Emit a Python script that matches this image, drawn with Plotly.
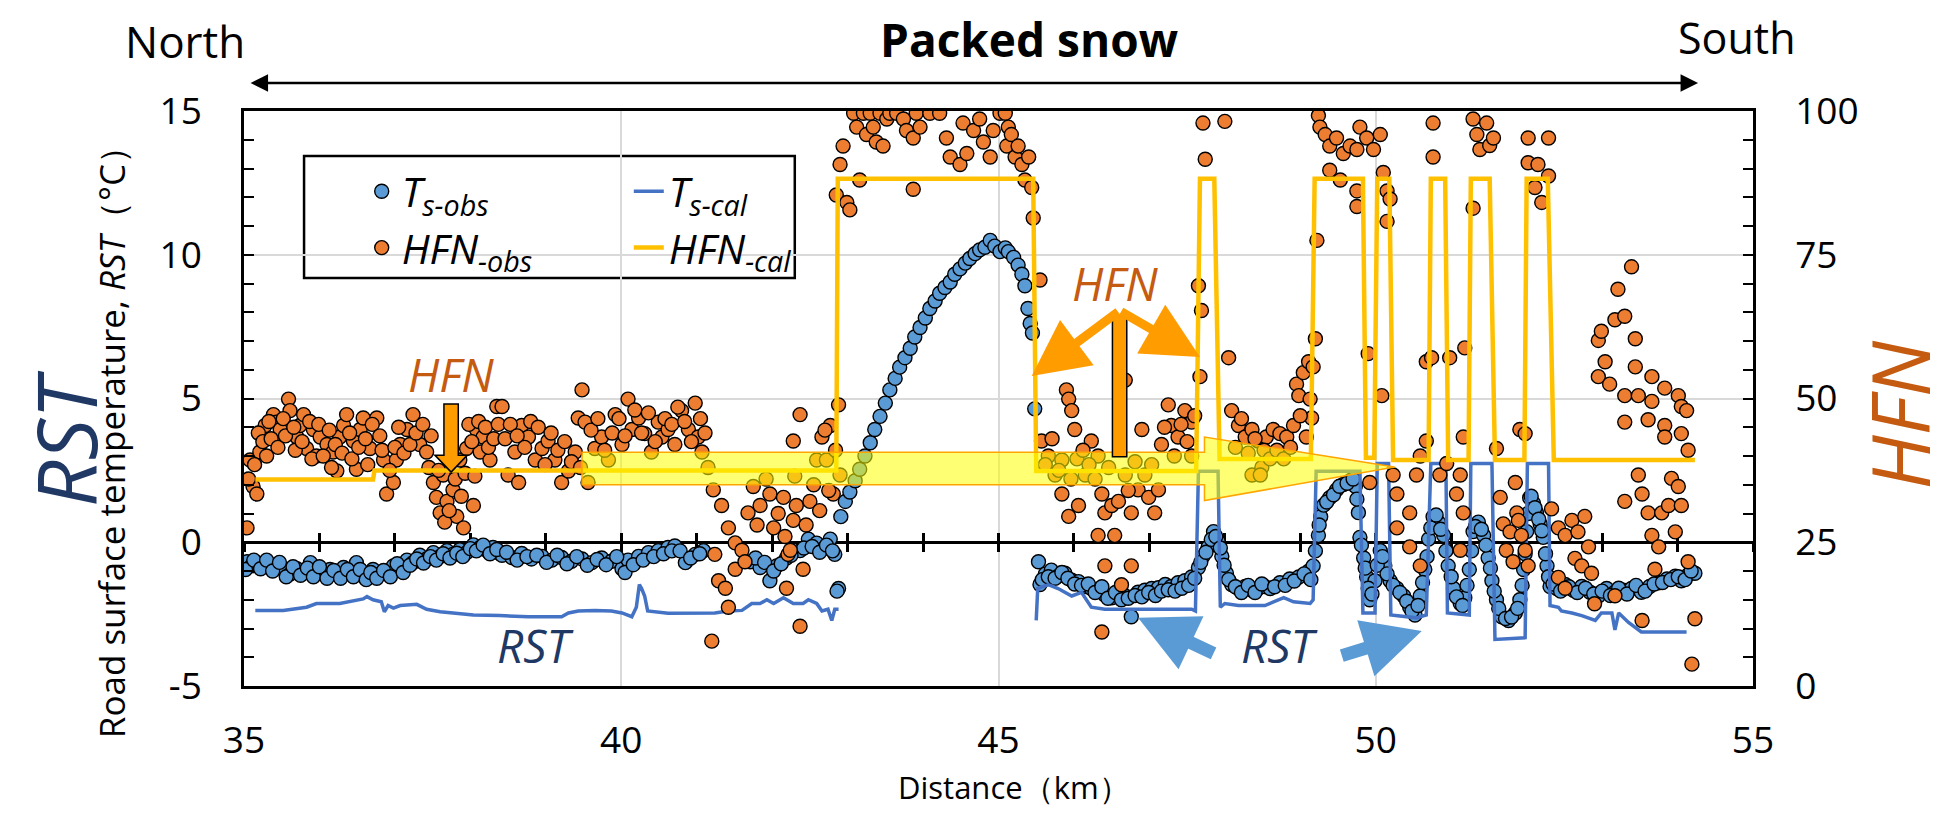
import plotly.graph_objects as go

# ---------------- data ----------------
ts_obs_km = [34.99,35.04,35.10,35.17,35.26,35.34,35.43,35.52,35.61,35.70,35.79,35.88,35.96,36.05,36.14,36.23,36.32,36.41,36.49,36.58,
             36.65,36.71,36.80,36.89,36.98,37.07,37.16,37.24,37.33,37.42,37.51,37.60,37.69,37.77,37.86,37.95,38.04,38.13,38.22,38.30,38.39,
             38.42,38.55,38.68,38.81,38.95,39.08,39.21,39.34,39.48,39.61,39.74,39.87,40.01,40.09,40.23,40.36,40.49,40.62,40.71,40.85,40.98,41.09,
             41.71,41.84,41.97,42.06,42.19,42.37,42.48,42.59,42.68,42.77,42.83,42.88,42.91,42.97,43.03,43.10,43.16,43.23,43.30,43.36,43.43,43.50,
             43.56,43.63,43.69,43.76,43.83,43.89,43.96,44.03,44.09,44.16,44.22,44.29,44.36,44.42,44.49,44.56,44.62,44.69,44.75,44.82,44.89,44.95,
             45.02,45.09,45.13,45.20,45.26,45.31,45.35,45.39,45.42,45.45,45.48,45.53,45.55,45.62,45.70,45.79,45.88,45.97,46.06,46.15,46.23,46.32,
             46.41,46.50,46.59,46.68,46.76,46.85,46.94,47.03,47.12,47.21,47.29,47.38,47.47,47.56,47.65,47.71,47.78,47.85,47.91,47.96,48.02,48.09,
             48.18,48.27,48.36,48.44,48.53,48.60,48.73,48.86,48.98,49.11,49.17,49.24,49.27,49.31,49.39,49.48,49.57,49.66,49.73,49.77,49.79,49.84,
             49.88,49.92,49.99,50.06,50.12,50.19,50.28,50.37,50.45,50.52,50.59,50.65,50.70,50.76,50.83,50.90,50.96,51.03,51.12,51.18,51.24,51.29,
             51.36,51.43,51.49,51.54,51.60,51.67,51.76,51.85,51.91,51.96,52.00,52.04,52.09,52.13,52.18,52.22,52.27,52.31,52.40,52.51,52.62,52.73,
             52.84,52.95,53.06,53.17,53.28,53.39,53.52,53.63,53.75,53.86,53.97,54.05,54.14,54.23,
             35.02,35.13,35.22,35.30,35.38,35.47,35.56,35.65,35.75,35.84,35.92,36.00,36.10,36.19,36.28,36.37,36.45,36.54,36.62,36.68,
             36.76,36.85,36.94,37.03,37.11,37.20,37.29,37.38,37.47,37.55,37.64,37.73,37.82,37.90,38.00,38.08,38.17,38.26,38.35,
             38.48,38.62,38.75,38.88,39.01,39.15,39.28,39.41,39.55,39.68,39.80,39.94,40.05,40.16,40.29,40.43,40.56,40.67,40.78,40.92,41.04,
             41.78,41.90,42.02,42.12,42.25,42.42,42.53,42.63,42.72,42.80,42.86,
             45.58,45.66,45.75,45.84,45.92,46.01,46.10,46.19,46.28,46.37,46.45,46.55,46.63,46.72,46.81,46.90,46.99,47.08,47.16,47.25,
             47.34,47.43,47.52,47.60,47.68,47.75,47.82,47.88,47.94,47.99,48.05,48.14,48.22,48.31,48.40,48.49,
             48.66,48.80,48.92,49.05,49.14,49.20,49.25,49.35,49.44,49.52,49.62,49.70,49.75,49.81,49.86,49.90,49.95,50.02,50.09,50.15,
             50.23,50.32,50.41,50.48,50.56,50.62,50.68,50.73,50.80,50.86,50.93,51.00,51.07,51.15,51.21,51.27,51.32,51.40,51.46,51.52,
             51.57,51.63,51.72,51.80,51.88,
             51.94,51.98,52.02,52.06,52.11,52.16,52.20,52.25,52.29,52.35,52.45,52.56,52.67,52.78,52.89,53.00,53.11,53.22,53.33,53.45,
             53.57,53.69,53.80,53.91,54.01,54.10,54.18]
ts_obs_val = [-0.79,-0.68,-0.82,-0.71,-0.76,-0.88,-0.79,-0.95,-1.11,-0.92,-1.05,-0.71,-1.01,-1.11,-0.95,-1.11,-0.88,-1.05,-0.71,-1.14,
              -1.21,-0.95,-1.11,-1.01,-0.82,-0.92,-0.62,-0.71,-0.45,-0.58,-0.36,-0.49,-0.29,-0.42,-0.26,-0.36,-0.09,-0.18,-0.29,-0.18,-0.39,
              -0.45,-0.53,-0.39,-0.58,-0.49,-0.62,-0.53,-0.66,-0.58,-0.71,-0.55,-0.66,-0.92,-0.62,-0.49,-0.36,-0.29,-0.18,-0.13,-0.71,-0.42,-0.29,
              -0.68,-0.88,-1.34,-0.82,-0.55,-0.29,0.11,-0.03,-0.22,0.11,-0.42,-1.61,0.89,1.42,1.75,2.14,2.54,3.00,3.46,3.92,4.38,4.84,
              5.30,5.70,6.09,6.42,6.75,7.14,7.47,7.80,8.13,8.39,8.66,8.86,9.05,9.32,9.51,9.71,9.87,10.04,10.17,10.26,10.50,10.30,
              10.11,10.24,10.11,9.91,9.64,9.32,8.92,8.13,7.61,7.28,4.64,-0.68,-1.47,-1.11,-0.97,-1.18,-1.08,-1.32,-1.37,-1.54,-1.61,-1.67,
              -1.84,-1.93,-1.80,-1.87,-2.59,-1.74,-1.67,-1.61,-1.58,-1.47,-1.54,-1.41,-1.34,-1.21,-0.88,-0.49,-0.16,0.37,0.04,-0.49,-1.08,-1.47,
              -1.61,-1.54,-1.67,-1.61,-1.54,-1.61,-1.41,-1.28,-1.21,-1.01,-0.82,0.24,0.89,1.29,1.55,1.82,2.01,2.14,1.95,1.03,0.17,-0.55,
              -1.21,-2.00,-1.34,-0.29,-0.82,-1.34,-1.61,-1.87,-2.26,-2.53,-1.87,-0.95,0.11,0.89,0.70,0.24,-0.82,-1.61,-2.13,-1.93,-0.95,0.37,
              0.70,0.24,-0.55,-1.34,-2.00,-2.59,-2.72,-2.46,-2.00,-0.95,0.37,1.55,1.36,1.03,0.63,0.17,-0.82,-1.54,-1.61,-1.47,-1.67,-1.54,
              -1.74,-1.87,-1.61,-1.74,-1.67,-1.61,-1.74,-1.54,-1.41,-1.28,-1.18,-1.34,-1.14,-1.08,
              -0.95,-0.62,-0.92,-0.62,-1.00,-0.70,-1.20,-0.85,-1.15,-0.90,-1.20,-0.85,-1.25,-0.98,-1.25,-0.95,-1.20,-0.95,-1.30,-1.05,
              -1.25,-0.98,-1.20,-0.75,-1.05,-0.80,-0.58,-0.72,-0.50,-0.62,-0.40,-0.55,-0.38,-0.50,-0.22,-0.30,-0.10,-0.40,-0.25,
              -0.35,-0.62,-0.50,-0.45,-0.70,-0.45,-0.75,-0.50,-0.80,-0.60,-0.78,-0.50,-1.05,-0.78,-0.62,-0.50,-0.40,-0.30,-0.30,-0.55,-0.40,
              -0.55,-0.70,-1.00,-0.75,-0.45,-0.20,-0.15,-0.35,-0.10,-0.30,-1.70,
              -1.30,-1.20,-1.25,-1.05,-1.25,-1.45,-1.50,-1.45,-1.75,-1.55,-1.95,-1.75,-2.00,-1.95,-1.85,-1.90,-1.75,-1.85,-1.70,-1.65,
              -1.70,-1.60,-1.50,-1.25,-0.70,-0.35,0.10,0.20,-0.20,-0.80,-1.30,-1.55,-1.75,-1.50,-1.75,-1.45,
              -1.55,-1.50,-1.35,-1.10,-1.30,-0.30,0.60,1.40,1.65,1.95,2.05,2.20,1.50,-0.10,-0.90,-1.60,-1.80,-0.80,-0.50,-1.10,
              -1.50,-1.75,-2.05,-2.40,-2.20,-1.40,-0.50,0.50,0.95,0.45,-0.30,-1.20,-1.90,-2.20,-1.50,-0.30,0.55,0.45,-0.10,-0.90,
              -1.70,-2.30,-2.65,-2.60,-2.30,
              -1.50,-0.40,1.00,1.60,1.20,0.80,0.40,-0.40,-1.20,-1.45,-1.70,-1.55,-1.75,-1.60,-1.80,-1.70,-1.85,-1.60,-1.80,-1.50,
              -1.70,-1.45,-1.40,-1.30,-1.20,-1.30,-1.00]

hfn_obs_km = [35.04,35.08,35.12,35.17,35.21,35.28,35.30,35.39,35.43,35.48,35.59,35.61,35.70,35.74,35.79,35.83,35.92,35.96,36.01,36.10,
              36.18,36.23,36.27,36.32,36.36,36.45,36.49,36.54,36.58,36.67,36.76,36.85,36.89,36.98,37.02,37.07,37.16,37.24,37.33,37.42,
              37.51,37.55,37.60,37.64,37.69,37.77,37.82,37.86,37.91,37.95,38.04,38.08,38.13,38.17,38.26,38.35,
              38.42,38.50,38.59,38.64,38.68,38.77,38.86,38.95,39.03,39.12,39.21,39.30,39.39,39.43,39.48,39.52,39.56,39.65,39.74,39.83,
              39.92,40.01,40.09,40.14,40.23,40.31,40.40,40.49,40.54,40.62,40.71,40.80,40.89,40.98,41.02,41.07,41.15,41.22,41.24,41.20,
              41.29,41.33,41.38,41.42,41.42,41.51,41.51,41.60,41.64,41.68,
              41.75,41.84,41.97,42.02,42.15,42.19,42.21,42.24,42.28,42.28,42.32,42.37,42.37,42.41,42.50,42.59,42.66,42.72,42.77,42.81,
              42.88,42.90,42.85,42.90,42.94,42.99,43.03,43.08,43.12,43.16,43.21,43.25,43.30,43.34,43.38,43.43,43.47,43.52,43.56,43.65,
              43.74,43.78,43.87,43.87,43.91,43.96,44.09,44.22,44.31,44.36,44.49,44.53,44.58,44.67,44.75,44.80,44.89,44.93,45.02,45.11,
              45.09,45.13,45.17,45.22,45.26,45.31,45.35,45.40,45.44,45.46,45.55,45.57,45.66,45.75,45.84,45.84,45.90,45.93,45.93,45.97,
              46.01,46.06,46.15,46.23,46.32,46.32,46.37,46.37,46.41,46.41,46.50,46.54,46.59,46.63,46.68,46.68,46.76,46.76,46.85,46.90,
              46.94,46.99,47.07,47.12,47.16,47.25,47.29,47.38,47.47,47.56,47.56,47.65,47.67,47.69,47.71,47.74,48.00,48.05,48.09,48.18,
              48.27,48.36,48.36,48.44,48.49,
              48.47,48.55,48.64,48.73,48.82,48.91,48.95,48.98,49.04,49.08,49.11,49.13,49.15,49.17,49.20,49.22,49.24,49.26,49.33,49.39,
              49.39,49.48,49.53,49.57,49.66,49.75,49.75,49.75,49.79,49.88,49.90,49.92,49.97,50.06,50.08,50.10,50.15,50.15,50.19,50.23,
              50.28,50.28,50.45,50.45,50.54,50.59,50.59,50.67,50.67,50.74,50.76,50.76,50.85,50.94,50.98,51.07,51.12,51.12,51.16,51.16,
              51.18,51.29,51.29,51.34,51.38,51.47,51.51,51.56,51.60,51.65,51.69,51.73,51.78,51.82,51.87,51.91,
              51.85,51.89,51.93,51.98,51.98,52.02,52.02,52.02,52.11,52.15,52.20,52.29,52.29,52.33,52.42,52.42,52.51,52.51,52.60,52.64,
              52.68,52.73,52.77,52.82,52.86,52.90,52.95,52.95,52.99,53.04,53.10,53.17,53.17,53.21,53.30,53.30,53.30,53.30,53.39,53.44,
              53.44,53.48,53.48,53.53,53.53,53.61,53.61,53.66,53.66,53.66,53.70,53.75,53.79,53.83,53.83,53.83,53.88,53.92,53.97,54.01,
              54.01,54.05,54.05,54.05,54.12,54.14,54.14,54.23,54.19,
              35.06,35.14,35.19,35.25,35.33,35.36,35.45,35.52,35.55,35.66,35.68,35.77,35.87,35.90,35.99,36.05,36.13,36.16,36.21,36.30,
              36.40,36.43,36.52,36.61,36.64,36.70,36.80,36.83,36.93,37.00,37.05,37.12,37.20,37.28,37.37,37.45,37.48,37.58,37.66,37.72,
              37.80,37.88,37.93,37.98,38.02,38.06,38.11,38.20,38.24,38.31,38.37,38.46,38.53,38.62,38.72,38.80,38.90,38.99,39.07,39.16,
              39.25,39.34,39.46,39.60,39.69,39.78,39.88,39.97,40.05,40.18,40.27,40.36,40.45,40.58,40.67,40.75,40.84,40.93,41.05,41.11,
              41.80,41.92,42.08,42.17,42.30,42.45,42.55,42.63,42.70,42.75,42.84,
              45.62,45.71,45.80,45.96,46.04,46.12,46.20,46.28,46.46,46.72,46.81,47.03,47.20,47.33,47.42,47.50,47.60,
              48.14,48.22,48.31,48.40,48.52,48.60,48.69,48.78,48.87,49.00]
hfn_obs_val = [27.5,39.3,34.7,33.4,40.7,45.3,40.0,47.2,45.9,44.6,49.9,47.9,43.3,45.3,47.2,41.3,44.6,40.0,43.3,42.0,
               40.7,37.4,43.3,45.3,47.2,42.6,37.7,44.6,46.6,41.3,46.6,39.3,33.4,35.4,39.3,42.0,44.6,47.2,42.0,40.7,
               35.4,32.8,30.1,36.7,32.1,34.1,29.5,39.3,27.5,41.3,31.4,44.6,40.7,43.3,39.3,48.6,
               48.6,36.7,40.7,35.4,45.3,43.3,39.3,41.3,42.6,39.3,35.4,37.4,40.7,46.6,51.5,45.9,35.4,41.3,43.3,39.3,
               47.2,42.0,49.9,44.6,46.6,43.9,40.7,45.9,43.3,44.6,42.0,47.9,44.6,49.2,43.3,40.7,38.0,34.1,22.9,7.8,
               18.3,31.4,17.0,27.5,13.7,24.9,20.3,23.6,21.6,30.1,
               34.7,31.4,33.4,27.5,32.8,17.0,22.9,23.6,28.8,42.6,31.4,47.2,10.4,20.3,32.1,39.3,43.3,39.3,45.3,33.4,
               48.9,36.7,85.4,90.7,93.9,84.1,82.8,99.6,97.2,88.0,99.6,95.9,99.6,97.2,94.6,99.6,93.9,98.6,99.6,99.6,
               98.6,96.6,95.3,86.4,99.6,97.2,99.6,99.6,95.3,92.0,90.7,97.9,92.6,96.6,98.6,94.6,92.0,96.6,99.6,93.9,
               99.6,97.2,95.9,92.0,93.9,90.7,88.0,92.0,86.7,81.4,70.6,42.6,40.0,36.7,39.3,33.4,51.5,49.9,29.5,47.9,
               44.6,31.4,36.7,42.6,40.0,26.2,33.4,9.4,30.1,20.9,31.4,26.2,32.1,17.6,53.2,36.7,30.1,20.9,34.1,44.6,
               36.7,32.8,30.1,34.1,42.0,48.9,45.3,43.3,47.9,45.9,40.0,69.6,53.8,65.3,97.9,91.6,98.2,57.1,47.9,45.3,
               43.3,44.6,36.7,42.6,38.0,
               36.7,43.3,44.6,43.9,43.3,45.3,52.5,50.5,54.5,43.3,56.4,49.9,46.6,55.5,60.4,77.5,99.2,97.2,95.9,93.9,
               89.7,95.3,88.0,92.6,93.9,93.3,86.1,83.4,97.2,95.3,57.8,35.4,93.3,95.9,50.5,89.3,86.1,80.8,84.7,36.7,
               33.4,27.5,30.1,24.2,36.7,40.0,20.9,42.6,56.4,57.1,97.9,92.0,36.7,38.7,57.1,33.4,36.7,23.6,43.3,30.1,
               58.8,83.1,98.6,95.9,93.3,97.9,94.0,95.3,41.3,32.8,28.2,23.6,26.8,21.6,30.1,44.6,
               35.4,28.8,26.2,43.9,23.6,20.9,95.3,91.0,86.7,90.7,84.1,95.3,88.7,30.8,27.5,18.9,26.2,17.0,28.8,22.2,
               26.8,20.9,29.5,24.2,19.6,14.3,60.1,53.8,61.7,56.4,52.5,63.7,15.7,69.0,64.3,50.5,45.9,32.1,72.9,60.4,
               55.5,50.5,36.7,33.4,11.4,46.3,30.1,53.8,49.5,26.2,20.3,24.2,30.1,51.8,45.3,43.3,31.4,36.1,26.8,50.5,
               34.7,48.6,43.9,31.4,47.9,41.0,21.6,11.7,3.8,
               36.0,38.5,44.0,42.5,46.0,43.0,41.5,46.5,43.5,45.0,41.0,42.5,46.0,39.5,45.5,40.0,44.5,38.0,42.0,40.5,
               44.0,39.5,41.5,43.0,38.5,45.5,43.5,41.0,37.5,41.5,45.0,40.5,42.0,44.0,45.5,38.0,43.5,37.5,28.5,30.5,
               36.0,33.0,37.0,45.5,42.5,36.5,46.0,45.0,41.5,43.0,45.5,43.0,45.5,43.5,41.5,46.0,45.0,38.5,44.0,41.0,
               42.5,39.0,38.0,44.5,46.5,41.0,44.0,46.5,43.5,48.0,44.0,47.5,42.5,46.5,45.5,48.5,46.0,42.5,46.5,44.0,
               28.0,36.0,30.0,26.0,36.5,28.0,35.0,30.5,44.5,34.0,41.0,
               38.5,43.0,37.5,36.0,39.5,41.0,38.5,36.0,38.0,34.0,39.0,38.5,45.0,40.0,45.5,42.5,47.0,
               41.5,46.5,40.5,43.0,41.0,39.5,41.0,39.5,41.5,47.0]

ts_cal_km = [35.15,35.52,35.83,35.96,36.27,36.58,36.63,36.71,36.82,36.86,36.91,36.98,37.07,37.29,37.42,37.60,37.77,38.04,38.39,
             38.77,39.21,39.30,39.43,39.65,39.87,40.01,40.14,40.20,40.24,40.27,40.31,40.35,40.62,41.15,41.24,41.42,41.60,41.73,
             41.84,41.93,42.02,42.15,42.28,42.41,42.48,42.59,42.66,42.74,42.79,42.83,42.88,None,
             45.50,45.52,45.66,45.79,45.97,46.10,46.23,46.41,47.56,47.61,47.65,47.91,47.94,48.00,48.18,48.53,
             48.78,48.91,49.13,49.17,49.21,49.79,49.83,49.99,50.02,50.17,50.20,50.54,50.67,50.73,50.93,50.95,51.24,51.26,51.54,51.58,
             51.98,52.01,52.29,52.31,52.42,52.46,52.60,52.73,52.91,52.99,53.13,53.17,53.22,53.35,53.52,54.12]
ts_cal_val = [-2.37,-2.37,-2.26,-2.13,-2.13,-1.97,-1.89,-2.00,-2.07,-2.42,-2.20,-2.29,-2.20,-2.16,-2.33,-2.42,-2.46,-2.53,-2.55,
              -2.59,-2.59,-2.46,-2.39,-2.37,-2.39,-2.46,-2.59,-2.26,-1.47,-1.61,-1.87,-2.39,-2.47,-2.47,-2.46,-2.39,-2.37,-2.13,
              -2.13,-2.00,-2.13,-1.93,-2.13,-2.13,-2.00,-2.13,-2.39,-2.33,-2.72,-2.33,-2.33,None,
              -2.72,-1.61,-1.47,-1.61,-1.87,-1.74,-2.26,-2.33,-2.33,-2.39,2.47,2.47,-2.26,-2.13,-2.20,-2.20,
              -1.93,-2.07,-2.13,-2.00,2.47,2.47,-2.46,-2.46,2.74,2.74,-2.53,-2.63,-2.53,2.74,2.74,-2.46,-2.53,2.74,2.74,-3.38,
              -3.32,2.74,2.74,-2.20,-2.26,-2.39,-2.46,-2.55,-2.72,-2.46,-2.46,-3.05,-2.46,-2.79,-3.12,-3.12]

hfn_cal_km = [35.15,36.71,36.73,42.85,42.87,45.46,45.50,47.62,47.67,47.86,47.93,49.14,49.19,49.83,49.87,49.98,50.02,50.18,
              50.23,50.70,50.73,50.92,50.96,51.23,51.26,51.51,51.58,51.97,52.00,52.28,52.36,54.23]
hfn_cal_val = [35.9,35.9,37.5,37.5,88.2,88.2,37.4,37.4,88.2,88.2,39.5,39.5,88.2,88.2,39.7,39.7,88.2,88.2,
               39.3,39.3,88.2,88.2,39.3,39.3,88.2,88.2,39.3,39.3,88.2,88.2,39.3,39.3]

x_ticks = [35, 40, 45, 50, 55]
rst_ticks = [-5, 0, 5, 10, 15]
rst_labels = ["-5", "0", "5", "10", "15"]
hfn_ticks = [0, 25, 50, 75, 100]

BLUE_PT = "#5B9BD5"
ORANGE_PT = "#ED7D31"
BLUE_LN = "#4472C4"
YELLOW_LN = "#FFC000"
ARROW_OR = "#FF9C00"
HFN_TXT = "#C55A11"
RST_TXT = "#203864"
FONT = "Open Sans"

fig = go.Figure()

mk = dict(size=14, line=dict(color="black", width=1.4))
fig.add_trace(go.Scatter(x=ts_obs_km, y=ts_obs_val, mode="markers", name="<i>T<sub>s-obs</sub></i>",
                         marker=dict(color=BLUE_PT, **mk), legend="legend", legendrank=1, legendgroup="a"))
fig.add_trace(go.Scatter(x=ts_cal_km, y=ts_cal_val, mode="lines", name="<i>T<sub>s-cal</sub></i>",
                         line=dict(color=BLUE_LN, width=3.5), connectgaps=False,
                         legend="legend2", legendrank=1, legendgroup="c"))
fig.add_trace(go.Scatter(x=hfn_obs_km, y=hfn_obs_val, mode="markers", name="<i>HFN<sub>-obs</sub></i>", yaxis="y2",
                         marker=dict(color=ORANGE_PT, **mk), legend="legend", legendrank=2, legendgroup="b"))
fig.add_trace(go.Scatter(x=hfn_cal_km, y=hfn_cal_val, mode="lines", name="<i>HFN<sub>-cal</sub></i>", yaxis="y2",
                         line=dict(color=YELLOW_LN, width=4.5), legend="legend2", legendrank=2, legendgroup="d"))

axis_font = dict(family=FONT, size=37, color="black")
grid = "#D9D9D9"

# the page body adds an 8 px margin, so the figure is 16 px smaller than the window
fig.update_layout(
    width=1923, height=800,
    margin=dict(l=236, r=178, t=103, b=122),
    paper_bgcolor="white", plot_bgcolor="white",
    font=dict(family=FONT, color="black"),
    xaxis=dict(range=[35, 55], tickvals=x_ticks, ticks="", showgrid=True, gridcolor=grid, gridwidth=2,
               zeroline=False, showline=True, linecolor="black", linewidth=2.5, mirror=True,
               tickfont=axis_font, ticklabelstandoff=20),
    xaxis2=dict(overlaying="x", matches="x", anchor="free", position=0.25, showline=True, linecolor="black",
                linewidth=2.5, ticks="inside", tick0=35, dtick=1, ticklen=9, tickwidth=2.5, tickcolor="black",
                showticklabels=False, showgrid=False, zeroline=False, layer="below traces"),
    xaxis3=dict(overlaying="x", matches="x", anchor="free", position=0.25, showline=False,
                ticks="outside", tick0=35, dtick=1, ticklen=9, tickwidth=2.5, tickcolor="black",
                showticklabels=False, showgrid=False, zeroline=False, layer="below traces"),
    yaxis=dict(range=[-5, 15], tickvals=rst_ticks, ticktext=rst_labels, ticks="inside", ticklen=10, tickwidth=2,
               tickcolor="black",
               minor=dict(dtick=1, ticks="inside", ticklen=10, tickwidth=2, tickcolor="black", showgrid=False),
               showgrid=True, gridcolor=grid, gridwidth=2, zeroline=False, showline=True, linecolor="black",
               linewidth=2.5, tickfont=axis_font, ticklabelstandoff=32),
    yaxis2=dict(range=[0, 100], tickvals=hfn_ticks, overlaying="y", side="right", ticks="inside", ticklen=10,
                tickwidth=2, tickcolor="black",
                minor=dict(dtick=5, ticks="inside", ticklen=10, tickwidth=2, tickcolor="black", showgrid=False),
                showgrid=False, zeroline=False, showline=True, linecolor="black", linewidth=2.5,
                tickfont=axis_font, ticklabelstandoff=32),
    legend=dict(x=0.078, y=0.918, xanchor="left", yanchor="top", bgcolor="rgba(0,0,0,0)", borderwidth=0,
                font=dict(family=FONT, size=41), traceorder="grouped", tracegroupgap=0),
    legend2=dict(x=0.255, y=0.918, xanchor="left", yanchor="top", bgcolor="rgba(0,0,0,0)", borderwidth=0,
                 font=dict(family=FONT, size=41), traceorder="grouped", tracegroupgap=0),
)

fig.add_trace(go.Scatter(x=[None], y=[None], xaxis="x2", showlegend=False, hoverinfo="skip"))
fig.add_trace(go.Scatter(x=[None], y=[None], xaxis="x3", showlegend=False, hoverinfo="skip"))

shapes = []
shapes.append(dict(type="rect", xref="paper", yref="paper", x0=0.0398, x1=0.365, y0=0.7096, y1=0.9217,
                   line=dict(color="black", width=2.5), fillcolor="white", layer="between"))
shapes.append(dict(type="path", xref="x", yref="y",
                   path="M 39.48,3.13 L 47.73,3.13 L 47.73,3.66 L 50.25,2.62 L 47.73,1.45 L 47.73,2.0 L 39.48,2.0 Z",
                   fillcolor="rgba(255,255,0,0.55)", line=dict(color="#FFA500", width=1.5), layer="above"))
shapes.append(dict(type="path", xref="x", yref="y",
                   path="M 37.65,4.81 L 37.84,4.81 L 37.84,3.03 L 37.96,3.03 L 37.745,2.44 L 37.53,3.03 L 37.65,3.03 Z",
                   fillcolor=ARROW_OR, line=dict(color="black", width=1.5), layer="above"))
shapes.append(dict(type="rect", xref="x", yref="y", x0=46.51, x1=46.70, y0=2.97, y1=7.9,
                   fillcolor=ARROW_OR, line=dict(color="black", width=1.5), layer="above"))
fig.update_layout(shapes=shapes)

ann = []
def txt(text, x, y, size, color="black", xref="paper", yref="paper", angle=0, bold=False):
    ann.append(dict(text=("<b>%s</b>" % text) if bold else text, x=x, y=y, xref=xref, yref=yref,
                    xanchor="center", yanchor="middle", showarrow=False, textangle=angle,
                    font=dict(family=FONT, size=size, color=color)))

txt("North", -0.039, 1.1217, 44)
txt("South", 0.9894, 1.127, 43)
txt("Packed snow", 0.5205, 1.1252, 46, bold=True)
txt("Distance（km）", 0.51, -0.176, 31)
txt("Road surface temperature, <i>RST</i>（°C）", -0.0881, 0.438, 35, angle=-90)
txt("<i>RST</i>", -0.119, 0.43, 82, color=RST_TXT, angle=-90)
txt("<i>HFN</i>", 1.0965, 0.471, 80, color=HFN_TXT, angle=-90)
txt("<i>HFN</i>", 37.74, 5.85, 46, color=HFN_TXT, xref="x", yref="y")
txt("<i>HFN</i>", 46.54, 9.02, 46, color=HFN_TXT, xref="x", yref="y")
txt("<i>RST</i>", 38.87, -3.57, 46, color=RST_TXT, xref="x", yref="y")
txt("<i>RST</i>", 48.73, -3.57, 46, color=RST_TXT, xref="x", yref="y")

ann.append(dict(x=0.9636, y=1.0487, xref="paper", yref="paper", ax=-1449, ay=0, text="", showarrow=True,
                arrowhead=2, startarrowhead=2, arrowside="end+start", arrowwidth=2.5, arrowsize=1.4,
                startarrowsize=1.4, arrowcolor="black"))
for tx, ty in [(45.44, 5.78), (47.67, 6.44)]:
    ann.append(dict(x=tx, y=ty, xref="x", yref="y", ax=46.605, ay=8.05, axref="x", ayref="y", text="",
                    showarrow=True, arrowhead=2, arrowwidth=9, arrowsize=1.25, arrowcolor=ARROW_OR))
for (tx, ty), (sx, sy) in [((46.85, -2.63), (47.87, -3.89)), ((50.61, -3.09), (49.53, -3.96))]:
    ann.append(dict(x=tx, y=ty, xref="x", yref="y", ax=sx, ay=sy, axref="x", ayref="y", text="",
                    showarrow=True, arrowhead=2, arrowwidth=13, arrowsize=0.9, arrowcolor=BLUE_PT))
fig.update_layout(annotations=ann)

fig.write_html("out.html")
